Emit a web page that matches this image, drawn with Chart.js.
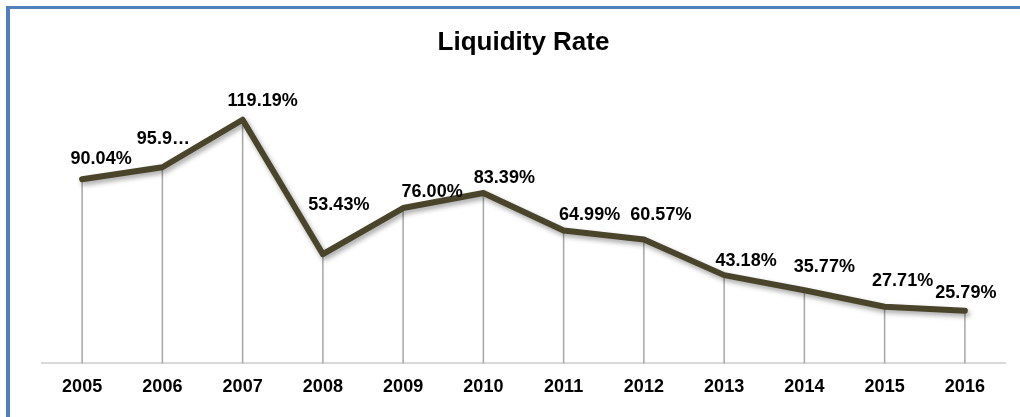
<!DOCTYPE html>
<html>
<head>
<meta charset="utf-8">
<script src="https://cdn.jsdelivr.net/npm/chart.js@4.4.1/dist/chart.umd.min.js"></script>
<style>
  html, body { margin: 0; padding: 0; background: #ffffff; overflow: hidden; }
  #wrap { position: relative; width: 1020px; height: 417px; }
  #frame {
    position: absolute; left: 6px; top: 6px; right: -10px; bottom: -10px;
    border-left: 4px solid #4f81bd; border-top: 3px solid #4f81bd;
    pointer-events: none;
  }
  #chart { position: absolute; left: 0; top: 0; }
</style>
</head>
<body>
<div id="wrap">
  <div id="frame"></div>
  <canvas id="chart" width="1020" height="417"></canvas>
</div>
<script>
// Liquidity rate by year (percent)
const years = ['2005', '2006', '2007', '2008', '2009', '2010', '2011', '2012', '2013', '2014', '2015', '2016'];
const liquidityRate = [90.04, 95.96, 119.19, 53.43, 76.00, 83.39, 64.99, 60.57, 43.18, 35.77, 27.71, 25.79];

// Labels whose box is too narrow to show the full value
const clippedLabels = ['2006'];

// Hand-placed label offsets (dx, dy) from each point, in pixels
const labelPlacement = [
  [19, -20], [1, -28], [20, -19], [16, -49], [29, -16], [21, -15],
  [26, -16], [17, -25], [22, -14], [20, -23], [18, -26], [1, -18]
];

const FONT = "'Liberation Sans', Arial, sans-serif";

function labelText(i) {
  const full = liquidityRate[i].toFixed(2) + '%';
  return clippedLabels.includes(years[i]) ? full.slice(0, 4) + '\u2026' : full;
}

// Vertical drop lines from each point down to the category axis
const dropLines = {
  id: 'dropLines',
  beforeDatasetsDraw(chart) {
    const ctx = chart.ctx;
    const meta = chart.getDatasetMeta(0);
    const bottom = chart.chartArea.bottom;
    ctx.save();
    ctx.strokeStyle = '#a6a6a6';
    ctx.lineWidth = 1.5;
    meta.data.forEach(pt => {
      ctx.beginPath();
      ctx.moveTo(pt.x, pt.y);
      ctx.lineTo(pt.x, bottom);
      ctx.stroke();
    });
    ctx.restore();
  }
};

// Soft shadow under the series line
const lineShadow = {
  id: 'lineShadow',
  beforeDatasetDraw(chart) {
    const ctx = chart.ctx;
    ctx.save();
    ctx.shadowColor = 'rgba(0,0,0,0.35)';
    ctx.shadowBlur = 5;
    ctx.shadowOffsetX = 2;
    ctx.shadowOffsetY = 3;
  },
  afterDatasetDraw(chart) {
    chart.ctx.restore();
  }
};

// Value labels next to each point
const valueLabels = {
  id: 'valueLabels',
  afterDatasetsDraw(chart) {
    const ctx = chart.ctx;
    const meta = chart.getDatasetMeta(0);
    ctx.save();
    ctx.font = 'bold 18px ' + FONT;
    ctx.fillStyle = '#000000';
    ctx.textAlign = 'center';
    ctx.textBaseline = 'middle';
    meta.data.forEach((pt, i) => {
      const [dx, dy] = labelPlacement[i];
      ctx.fillText(labelText(i), pt.x + dx, pt.y + dy);
    });
    ctx.restore();
  }
};

new Chart(document.getElementById('chart'), {
  type: 'line',
  data: {
    labels: years,
    datasets: [{
      label: 'Liquidity Rate',
      data: liquidityRate,
      borderColor: '#4a452a',
      backgroundColor: '#4a452a',
      borderWidth: 6,
      borderCapStyle: 'round',
      borderJoinStyle: 'round',
      pointRadius: 0,
      tension: 0,
      fill: false
    }]
  },
  options: {
    responsive: false,
    animation: false,
    events: [],
    layout: { padding: { left: 42, right: 15, top: 0, bottom: 6 } },
    plugins: {
      legend: { display: false },
      tooltip: { enabled: false },
      title: {
        display: true,
        text: 'Liquidity Rate',
        color: '#000000',
        font: { family: FONT, size: 26, weight: 'bold', lineHeight: 1.2 },
        padding: { top: 27, bottom: 19 },
        fullSize: false
      }
    },
    scales: {
      x: {
        offset: true,
        grid: { display: false, drawTicks: false },
        border: { display: true, color: '#d9d9d9', width: 2 },
        ticks: {
          color: '#000000',
          padding: 13,
          font: { family: FONT, size: 18, weight: 'bold' },
          maxRotation: 0,
          autoSkip: false
        }
      },
      y: {
        display: false,
        min: 0,
        max: 140
      }
    }
  },
  plugins: [dropLines, lineShadow, valueLabels]
});
</script>
</body>
</html>
